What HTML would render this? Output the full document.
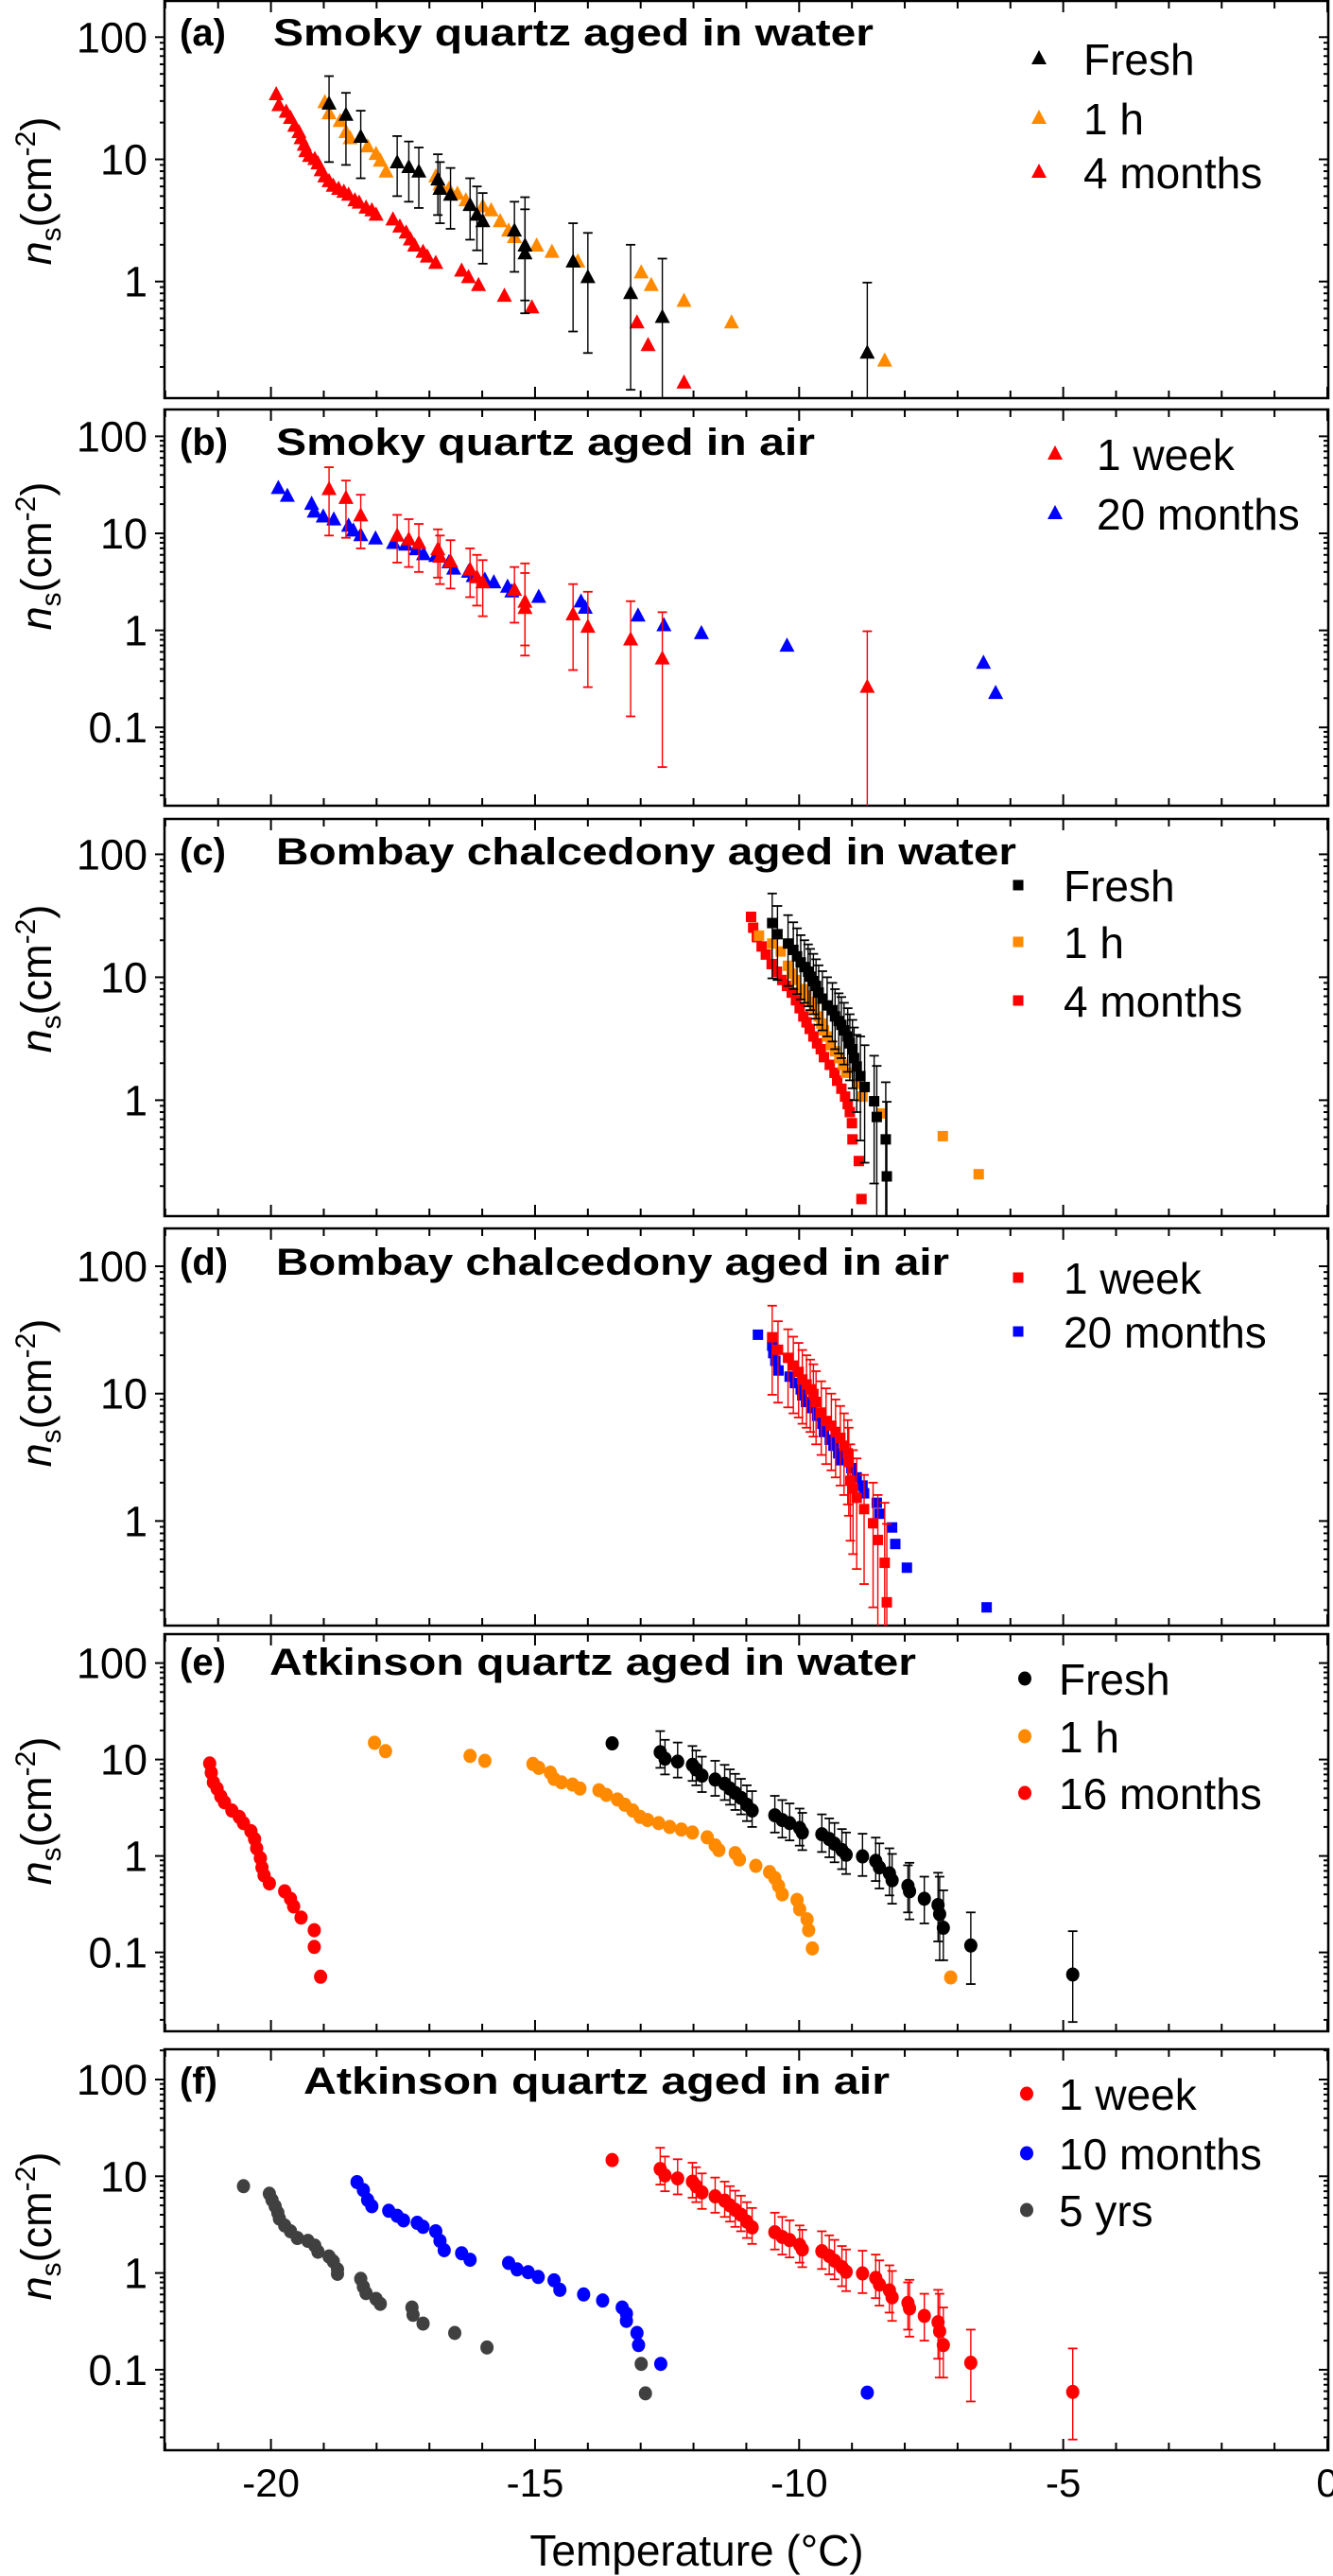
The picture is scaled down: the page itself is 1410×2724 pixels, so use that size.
<!DOCTYPE html>
<html><head><meta charset="utf-8">
<style>
html,body{margin:0;padding:0;background:#fff;}
svg{display:block;font-family:"Liberation Sans",Arial,sans-serif;}
</style></head>
<body>
<svg id="fig" width="1410" height="2724" viewBox="0 0 1410 2724" xmlns="http://www.w3.org/2000/svg"></svg>
<script>
// ---------- DATA (temperatures in °C, ns in cm^-2) ----------
// Panel a: Smoky quartz aged in water
const aFreshT = [-18.90,-18.58,-18.30,-17.61,-17.39,-17.20,-16.84,-16.80,-16.60,-16.23,-16.10,-15.99,-15.39,-15.19,-15.19,-14.28,-14.00,-13.19,-12.59,-8.71];
const aFreshN = [28.4,23.0,15.2,9.4,8.6,7.9,6.8,5.7,5.1,4.2,3.5,3.1,2.6,1.96,1.69,1.45,1.08,0.80,0.51,0.26];
const aFreshHi = [48,35,25,15.5,14,12.5,11,9.5,8.5,7,6,5.3,4.5,4.9,3.9,3.0,2.5,2.0,1.54,0.98];
const aFreshLo = [9.5,9,7,5,4.5,4,3.5,3,2.7,2.2,1.8,1.4,1.2,0.7,0.55,0.39,0.26,0.13,0.039,0.001];
const a1hT = [-18.98,-18.90,-18.69,-18.58,-18.50,-18.17,-18.01,-17.93,-17.82,-16.88,-16.80,-16.63,-16.47,-16.31,-15.99,-15.83,-15.66,-15.50,-15.39,-14.97,-14.68,-14.19,-12.99,-12.80,-12.18,-11.28,-8.38];
const a1hN = [29.2,23.7,20.5,16.6,14.8,12.7,11.0,9.7,7.9,7.2,6.2,5.7,5.2,4.6,4.1,3.8,3.1,2.6,2.3,1.96,1.74,1.45,1.18,0.93,0.69,0.46,0.224];
const a4mT = [-19.90,-19.85,-19.71,-19.63,-19.55,-19.47,-19.43,-19.37,-19.34,-19.27,-19.17,-19.11,-19.05,-18.98,-18.90,-18.82,-18.72,-18.62,-18.53,-18.41,-18.33,-18.20,-18.09,-18.01,-17.69,-17.56,-17.44,-17.36,-17.28,-17.12,-17.04,-16.88,-16.39,-16.26,-16.07,-15.58,-15.06,-13.07,-12.86,-12.18];
const a4mN = [33.9,27.6,24.4,21.7,18.7,16.6,14.8,13.1,11.6,10.6,10.0,9.2,8.1,7.2,6.6,6.05,5.7,5.4,5.1,4.6,4.4,4.0,3.8,3.5,3.2,2.8,2.5,2.2,1.96,1.74,1.59,1.41,1.22,1.08,0.93,0.76,0.61,0.46,0.30,0.148];
// Panel b: Smoky quartz aged in air
const b1wT = [-18.90,-18.58,-18.30,-17.61,-17.39,-17.20,-16.84,-16.80,-16.60,-16.23,-16.10,-15.99,-15.39,-15.19,-15.19,-14.28,-14.00,-13.19,-12.59,-8.71];
const b1wN = [28.4,23.0,15.2,9.4,8.6,7.9,6.8,5.7,5.1,4.2,3.5,3.1,2.6,1.96,1.69,1.45,1.08,0.80,0.51,0.26];
const b1wHi = [48,35,25,15.5,14,12.5,11,9.5,8.5,7,6,5.3,4.5,4.9,3.9,3.0,2.5,2.0,1.54,0.98];
const b1wLo = [9.5,9,7,5,4.5,4,3.5,3,2.7,2.2,1.8,1.4,1.2,0.7,0.55,0.39,0.26,0.13,0.039,0.001];
const b20mT = [-19.86,-19.69,-19.23,-19.18,-19.01,-18.81,-18.53,-18.44,-18.30,-18.02,-17.68,-17.45,-17.25,-17.11,-16.88,-16.63,-16.54,-16.26,-16.17,-15.95,-15.78,-15.52,-15.44,-14.93,-14.13,-14.05,-13.05,-12.56,-11.85,-10.23,-6.51,-6.28];
const b20mN = [29.1,24.2,20.0,16.6,14.8,13.8,11.9,10.6,9.5,8.8,7.9,7.6,6.8,6.05,5.8,5.0,4.3,4.0,3.6,3.3,3.1,2.8,2.5,2.2,1.97,1.7,1.41,1.12,0.93,0.69,0.46,0.225];
// Panel c: Bombay chalcedony aged in water
const cFreshT = [-10.51,-10.41,-10.21,-10.11,-10.04,-9.97,-9.90,-9.83,-9.79,-9.73,-9.68,-9.63,-9.56,-9.47,-9.37,-9.32,-9.25,-9.20,-9.15,-9.08,-9.04,-8.99,-8.96,-8.91,-8.84,-8.76,-8.58,-8.53,-8.36,-8.34];
const cFreshN = [27.6,22.4,18.8,16.7,14.8,13.2,12.1,11.1,10.1,9.3,8.5,7.5,6.7,5.9,5.4,4.8,4.4,4.1,3.7,3.3,2.9,2.6,2.2,1.88,1.57,1.28,0.98,0.73,0.48,0.24];
const cFreshHi = [48,38,32,28,25,22,20,18.5,17,15.5,14,12.5,11.2,10,9,8,7.4,6.9,6.2,5.6,5,4.5,3.9,3.4,3.3,2.8,2.3,1.9,1.4,0.97];
const cFreshLo = [9.8,9.5,8.5,8,7.3,6.6,6.2,5.8,5.4,5,4.6,4.1,3.7,3.3,3,2.6,2.4,2.2,1.95,1.7,1.45,1.25,1.0,0.8,0.47,0.31,0.21,0.09,0.05,0.05];
const c1hT = [-10.76,-10.51,-10.35,-10.21,-10.14,-10.06,-9.94,-9.86,-9.79,-9.72,-9.63,-9.58,-9.53,-9.47,-9.40,-9.32,-9.24,-9.17,-9.11,-8.87,-8.80,-8.43,-7.28,-6.60];
const c1hN = [21.8,18.8,16.2,12.4,10.7,9.5,8.0,7.1,6.3,5.6,4.8,4.2,3.7,3.3,2.8,2.5,2.2,1.94,1.67,1.36,1.07,0.78,0.51,0.25];
const c4mT = [-10.91,-10.87,-10.80,-10.71,-10.63,-10.52,-10.42,-10.32,-10.23,-10.14,-10.06,-9.99,-9.92,-9.86,-9.80,-9.73,-9.66,-9.59,-9.53,-9.42,-9.33,-9.28,-9.20,-9.13,-9.08,-9.04,-9.00,-8.99,-8.87,-8.82];
const c4mN = [31.0,25.3,21.2,17.8,15.3,12.8,11.1,9.5,8.5,7.5,6.5,5.6,4.8,4.3,3.8,3.3,2.9,2.6,2.24,1.94,1.67,1.44,1.24,1.07,0.93,0.80,0.65,0.48,0.32,0.157];
// Panel d: Bombay chalcedony aged in air
const d1wT = [-10.51,-10.40,-10.21,-10.11,-10.01,-9.94,-9.86,-9.79,-9.73,-9.68,-9.58,-9.49,-9.39,-9.31,-9.22,-9.15,-9.08,-9.06,-9.03,-8.98,-8.91,-8.77,-8.60,-8.51,-8.38,-8.34];
const d1wN = [27.7,22.1,19.1,16.6,14.8,12.9,11.8,10.8,9.95,8.6,7.1,6.1,5.6,5.0,4.5,3.9,3.4,2.9,2.07,1.80,1.52,1.24,0.96,0.71,0.47,0.23];
const d1wHi = [49,37,32,28,25,22,20,18.5,17,15,12.5,11,10,9,8,7,6.2,5.4,4.0,3.6,3.1,2.3,2.0,1.6,1.39,0.95];
const d1wLo = [9.8,8.5,7.8,7,6.5,5.8,5.4,5,4.6,4,3.3,2.8,2.5,2.2,1.9,1.6,1.35,1.1,0.7,0.55,0.42,0.32,0.21,0.1,0.05,0.05];
const d20mT = [-10.78,-10.51,-10.49,-10.45,-10.39,-10.18,-10.08,-9.97,-9.94,-9.87,-9.77,-9.66,-9.56,-9.53,-9.42,-9.35,-9.26,-9.20,-9.01,-8.91,-8.80,-8.77,-8.53,-8.48,-8.24,-8.18,-7.96,-6.45];
const d20mN = [29.0,23.8,20.8,18.1,15.2,13.6,12.1,10.8,9.7,8.6,7.7,6.7,5.8,5.0,4.35,3.9,3.4,3.0,2.6,2.2,1.9,1.65,1.39,1.14,0.89,0.66,0.43,0.21];
// Panel e: Atkinson quartz aged in water
const eFreshT = [-13.54,-12.63,-12.54,-12.30,-12.02,-11.95,-11.84,-11.59,-11.41,-11.31,-11.21,-11.10,-10.99,-10.89,-10.46,-10.32,-10.18,-9.99,-9.94,-9.57,-9.43,-9.33,-9.19,-9.11,-8.80,-8.55,-8.48,-8.29,-8.24,-7.94,-7.91,-7.63,-7.37,-7.34,-7.27,-6.75,-4.82];
const eFreshN = [14.7,11.9,10.2,9.5,8.8,7.9,6.8,6.2,5.6,5.0,4.5,4.0,3.4,2.96,2.64,2.36,2.19,1.95,1.75,1.68,1.50,1.34,1.15,1.03,0.99,0.89,0.76,0.66,0.56,0.49,0.43,0.36,0.31,0.25,0.18,0.118,0.059];
const eFreshHi = [14.7,19.7,16,15,13.8,12.4,10.7,9.7,8.8,7.9,7.1,6.3,5.4,4.7,4.2,3.8,3.5,3.1,2.8,2.7,2.45,2.2,1.9,1.75,1.7,1.55,1.35,1.2,1.05,0.8,0.85,0.61,0.67,0.61,0.44,0.26,0.166];
const eFreshLo = [14.7,8.2,7,6.5,6,5.4,4.6,4.2,3.8,3.4,3,2.7,2.3,2.0,1.75,1.55,1.45,1.28,1.15,1.1,0.97,0.86,0.73,0.65,0.62,0.55,0.46,0.39,0.32,0.26,0.22,0.2,0.13,0.083,0.083,0.047,0.019];
const e1hT = [-18.04,-17.83,-16.23,-15.95,-15.04,-14.93,-14.71,-14.64,-14.50,-14.29,-14.15,-13.79,-13.65,-13.44,-13.30,-13.15,-13.01,-12.87,-12.66,-12.45,-12.23,-12.02,-11.74,-11.59,-11.52,-11.21,-11.13,-10.82,-10.56,-10.46,-10.39,-10.32,-10.04,-9.99,-9.85,-9.82,-9.75,-7.13];
const e1hN = [14.9,12.2,10.9,9.7,9.0,8.2,7.3,6.3,5.8,5.5,5.0,4.8,4.3,3.85,3.4,2.96,2.54,2.36,2.19,2.0,1.88,1.75,1.56,1.29,1.15,1.07,0.92,0.79,0.68,0.59,0.49,0.40,0.35,0.28,0.22,0.17,0.11,0.055];
const e16mT = [-21.16,-21.13,-21.09,-21.02,-20.95,-20.88,-20.74,-20.60,-20.52,-20.38,-20.31,-20.27,-20.20,-20.17,-20.13,-20.03,-19.74,-19.63,-19.57,-19.43,-19.18,-19.18,-19.06];
const e16mN = [9.1,7.3,5.8,5.0,4.15,3.6,2.96,2.54,2.19,1.81,1.50,1.20,0.95,0.76,0.63,0.52,0.43,0.36,0.30,0.23,0.17,0.114,0.056];
// Panel f: Atkinson quartz aged in air
const f1wT = [-13.54,-12.63,-12.54,-12.30,-12.02,-11.95,-11.84,-11.59,-11.41,-11.31,-11.21,-11.10,-10.99,-10.89,-10.46,-10.32,-10.18,-9.99,-9.94,-9.57,-9.43,-9.33,-9.19,-9.11,-8.80,-8.55,-8.48,-8.29,-8.24,-7.94,-7.91,-7.63,-7.37,-7.34,-7.27,-6.75,-4.82];
const f1wN = [14.7,11.9,10.2,9.5,8.8,7.9,6.8,6.2,5.6,5.0,4.5,4.0,3.4,2.96,2.64,2.36,2.19,1.95,1.75,1.68,1.50,1.34,1.15,1.03,0.99,0.89,0.76,0.66,0.56,0.49,0.43,0.36,0.31,0.25,0.18,0.118,0.059];
const f1wHi = [14.7,19.7,16,15,13.8,12.4,10.7,9.7,8.8,7.9,7.1,6.3,5.4,4.7,4.2,3.8,3.5,3.1,2.8,2.7,2.45,2.2,1.9,1.75,1.7,1.55,1.35,1.2,1.05,0.8,0.85,0.61,0.67,0.61,0.44,0.26,0.166];
const f1wLo = [14.7,8.2,7,6.5,6,5.4,4.6,4.2,3.8,3.4,3,2.7,2.3,2.0,1.75,1.55,1.45,1.28,1.15,1.1,0.97,0.86,0.73,0.65,0.62,0.55,0.46,0.39,0.32,0.26,0.22,0.2,0.13,0.083,0.083,0.047,0.019];
const f10mT = [-18.37,-18.25,-18.17,-18.09,-17.77,-17.61,-17.49,-17.23,-17.12,-16.88,-16.80,-16.72,-16.39,-16.23,-15.50,-15.34,-15.13,-14.94,-14.64,-14.53,-14.08,-13.72,-13.35,-13.27,-13.27,-13.07,-13.04,-12.62,-8.71];
const f10mN = [8.7,7.2,5.7,4.9,4.4,3.9,3.5,3.3,3.0,2.7,2.15,1.72,1.6,1.37,1.27,1.09,1.02,0.91,0.84,0.67,0.60,0.52,0.44,0.38,0.32,0.24,0.18,0.115,0.058];
const f5yT = [-20.52,-20.03,-19.98,-19.92,-19.87,-19.84,-19.74,-19.63,-19.50,-19.30,-19.17,-19.11,-18.90,-18.82,-18.74,-18.74,-18.30,-18.25,-18.20,-18.01,-17.93,-17.33,-17.31,-17.12,-16.52,-15.91,-12.99,-12.91];
const f5yN = [7.9,6.6,5.7,4.9,4.2,3.65,3.1,2.7,2.3,2.15,1.92,1.66,1.48,1.32,1.09,0.98,0.87,0.72,0.62,0.54,0.48,0.44,0.37,0.30,0.24,0.17,0.115,0.057];
const xTickLabels = ["-20","-15","-10","-5","0"];
const xTickValues = [-20,-15,-10,-5,0];

// ---------- LAYOUT ----------
const NS = "http://www.w3.org/2000/svg";
const svg = document.getElementById("fig");
const PX0 = 174, PX1 = 1405;
function xScale(t){ return 1404 + 55.87 * t; }
const COL = {black:"#000000", orange:"#FF8A00", red:"#FF0000", blue:"#0000FF", gray:"#404040"};

const panels = [
 {id:"a", top:1, bot:421, y100:39.3, dec:129.2, labels:[100,10,1], title:"Smoky quartz aged in water", tx:289, tw:635, tb:48, ylab:202, lx:1099, ltx:1146, ly:[62,125,182],
  series:[{n:"Fresh",c:"black",m:"tri",T:aFreshT,N:aFreshN,hi:aFreshHi,lo:aFreshLo},{n:"1 h",c:"orange",m:"tri",T:a1hT,N:a1hN},{n:"4 months",c:"red",m:"tri",T:a4mT,N:a4mN}]},
 {id:"b", top:433, bot:852, y100:461.4, dec:102.6, labels:[100,10,1,0.1], title:"Smoky quartz aged in air", tx:292, tw:570, tb:481, ylab:588, lx:1116, ltx:1160, ly:[480,543],
  series:[{n:"1 week",c:"red",m:"tri",T:b1wT,N:b1wN,hi:b1wHi,lo:b1wLo},{n:"20 months",c:"blue",m:"tri",T:b20mT,N:b20mN}], order:[1,0]},
 {id:"c", top:866, bot:1286, y100:903.4, dec:130, labels:[100,10,1], title:"Bombay chalcedony aged in water", tx:292, tw:783, tb:914, ylab:1035, lx:1077, ltx:1125, ly:[936,996,1058],
  series:[{n:"Fresh",c:"black",m:"sq",T:cFreshT,N:cFreshN,hi:cFreshHi,lo:cFreshLo},{n:"1 h",c:"orange",m:"sq",T:c1hT,N:c1hN},{n:"4 months",c:"red",m:"sq",T:c4mT,N:c4mN}]},
 {id:"d", top:1299, bot:1719, y100:1339, dec:134.7, labels:[100,10,1], title:"Bombay chalcedony aged in air", tx:292, tw:712, tb:1348, ylab:1473, lx:1077, ltx:1125, ly:[1351,1408],
  series:[{n:"1 week",c:"red",m:"sq",T:d1wT,N:d1wN,hi:d1wHi,lo:d1wLo},{n:"20 months",c:"blue",m:"sq",T:d20mT,N:d20mN}]},
 {id:"e", top:1728, bot:2148, y100:1758.6, dec:102, labels:[100,10,1,0.1], title:"Atkinson quartz aged in water", tx:285, tw:684, tb:1771, ylab:1915, lx:1084, ltx:1120, ly:[1775,1836,1896],
  series:[{n:"Fresh",c:"black",m:"circ",T:eFreshT,N:eFreshN,hi:eFreshHi,lo:eFreshLo},{n:"1 h",c:"orange",m:"circ",T:e1hT,N:e1hN},{n:"16 months",c:"red",m:"circ",T:e16mT,N:e16mN}]},
 {id:"f", top:2167, bot:2591, y100:2199, dec:102.3, labels:[100,10,1,0.1], title:"Atkinson quartz aged in air", tx:321, tw:620, tb:2214, ylab:2354, lx:1086, ltx:1120, ly:[2214,2277,2337],
  series:[{n:"1 week",c:"red",m:"circ",T:f1wT,N:f1wN,hi:f1wHi,lo:f1wLo},{n:"10 months",c:"blue",m:"circ",T:f10mT,N:f10mN},{n:"5 yrs",c:"gray",m:"circ",T:f5yT,N:f5yN}]}
];

function el(tag, attrs, parent){
  const e = document.createElementNS(NS, tag);
  for (const k in attrs) e.setAttribute(k, attrs[k]);
  (parent||svg).appendChild(e);
  return e;
}
function marker(g, m, x, y, color){
  let e;
  if (m === "tri") e = el("polygon", {points:`${x},${y-9} ${x-8},${y+6} ${x+8},${y+6}`, fill:color}, g);
  else if (m === "sq") e = el("rect", {x:x-5.5, y:y-5.5, width:11, height:11, fill:color}, g);
  else e = el("ellipse", {cx:x, cy:y, rx:7, ry:7.5, fill:color}, g);
  return e;
}
const nameMap = {"Fresh":"fresh","1 h":"1h","4 months":"4-months","1 week":"1-week","20 months":"20-months","16 months":"16-months","10 months":"10-months","5 yrs":"5-yrs"};

panels.forEach(p => {
  const yS = n => p.y100 + (2 - Math.log10(n)) * p.dec;
  const g = el("g", {});
  
  
  const clip = el("clipPath", {id:"clip-"+p.id}, g);
  el("rect", {x:PX0, y:p.top, width:PX1-PX0, height:p.bot-p.top}, clip);

  // frame
  const fr = el("rect", {x:PX0, y:p.top, width:PX1-PX0, height:p.bot-p.top, fill:"none", stroke:"#000", "stroke-width":2.5}, g);
  
  

  // x ticks (top & bottom, inward)
  for (let t = -22; t <= 0; t++){
    const x = xScale(t);
    const len = (t % 5 === 0) ? 12 : 8;
    el("line", {x1:x, y1:p.bot, x2:x, y2:p.bot-len, stroke:"#000", "stroke-width":2}, g);
    el("line", {x1:x, y1:p.top, x2:x, y2:p.top+len, stroke:"#000", "stroke-width":2}, g);
  }
  // y ticks (log)
  const lmin = 2 - (p.bot - p.y100)/p.dec, lmax = 2 + (p.y100 - p.top)/p.dec;
  for (let d = Math.floor(lmin); d <= Math.ceil(lmax); d++){
    for (let k = 1; k <= 9; k++){
      const v = k * Math.pow(10, d);
      const lv = Math.log10(v);
      if (lv < lmin || lv > lmax) continue;
      const y = yS(v);
      const len = k === 1 ? 10 : 5;
      el("line", {x1:PX0, y1:y, x2:PX0-len, y2:y, stroke:"#000", "stroke-width":2}, g);
      el("line", {x1:PX1, y1:y, x2:PX1-len, y2:y, stroke:"#000", "stroke-width":2}, g);
    }
  }
  p.labels.forEach(v => {
    const t = el("text", {x:156, y:yS(v)+16, "text-anchor":"end", "font-size":45}, g);
    t.textContent = String(v);
    
    
  });

  // y-axis title
  const yt = el("text", {x:0, y:0, "font-size":45, "text-anchor":"middle", transform:`translate(54 ${p.ylab}) rotate(-90)`}, g);
  
  
  yt.innerHTML = '<tspan font-style="italic">n</tspan><tspan font-size="30" dy="10">s</tspan><tspan dy="-10">(cm</tspan><tspan font-size="30" dy="-17">-2</tspan><tspan dy="17">)</tspan>';

  // title
  const lab = el("text", {x:190, y:p.tb, "font-size":40, "font-weight":"bold"}, g);
  lab.textContent = "(" + p.id + ")";
  
  
  const tt = el("text", {x:p.tx, y:p.tb, "font-size":40, "font-weight":"bold", textLength:p.tw, lengthAdjust:"spacingAndGlyphs"}, g);
  tt.textContent = p.title;
  
  

  // data
  const dg = el("g", {"clip-path":`url(#clip-${p.id})`}, g);
  const order = p.order || p.series.map((s,i)=>i).reverse();
  order.forEach(si => {
    const s = p.series[si];
    const sg = el("g", {}, dg);
    
    
    if (s.hi){
      s.T.forEach((t,i) => {
        if (s.hi[i] === s.N[i] && s.lo[i] === s.N[i]) return;
        const x = xScale(t), y1 = yS(s.hi[i]), y2 = yS(Math.max(s.lo[i], 1e-4));
        el("line", {x1:x, y1:y1, x2:x, y2:y2, stroke:COL[s.c], "stroke-width":1.4}, sg);
        el("line", {x1:x-5, y1:y1, x2:x+5, y2:y1, stroke:COL[s.c], "stroke-width":1.8}, sg);
        el("line", {x1:x-5, y1:y2, x2:x+5, y2:y2, stroke:COL[s.c], "stroke-width":1.8}, sg);
      });
    }
    s.T.forEach((t,i) => {
      const mk = marker(sg, s.m, xScale(t), yS(s.N[i]), COL[s.c]);
      
      
    });
  });

  // legend
  p.series.forEach((s,i) => {
    const lg = el("g", {}, g);
    
    
    marker(lg, s.m, p.lx, p.ly[i], COL[s.c]);
    const tx = el("text", {x:p.ltx, y:p.ly[i]+17, "font-size":46}, lg);
    tx.textContent = s.n;
  });
});

// x tick labels (bottom panel only)
xTickValues.forEach((v,i) => {
  const t = el("text", {x:xScale(v), y:2640, "text-anchor":"middle", "font-size":42});
  t.textContent = xTickLabels[i];
  
  
});
const xt = el("text", {x:737, y:2713, "text-anchor":"middle", "font-size":46});
xt.textContent = "Temperature (°C)";


</script>
</body></html>
